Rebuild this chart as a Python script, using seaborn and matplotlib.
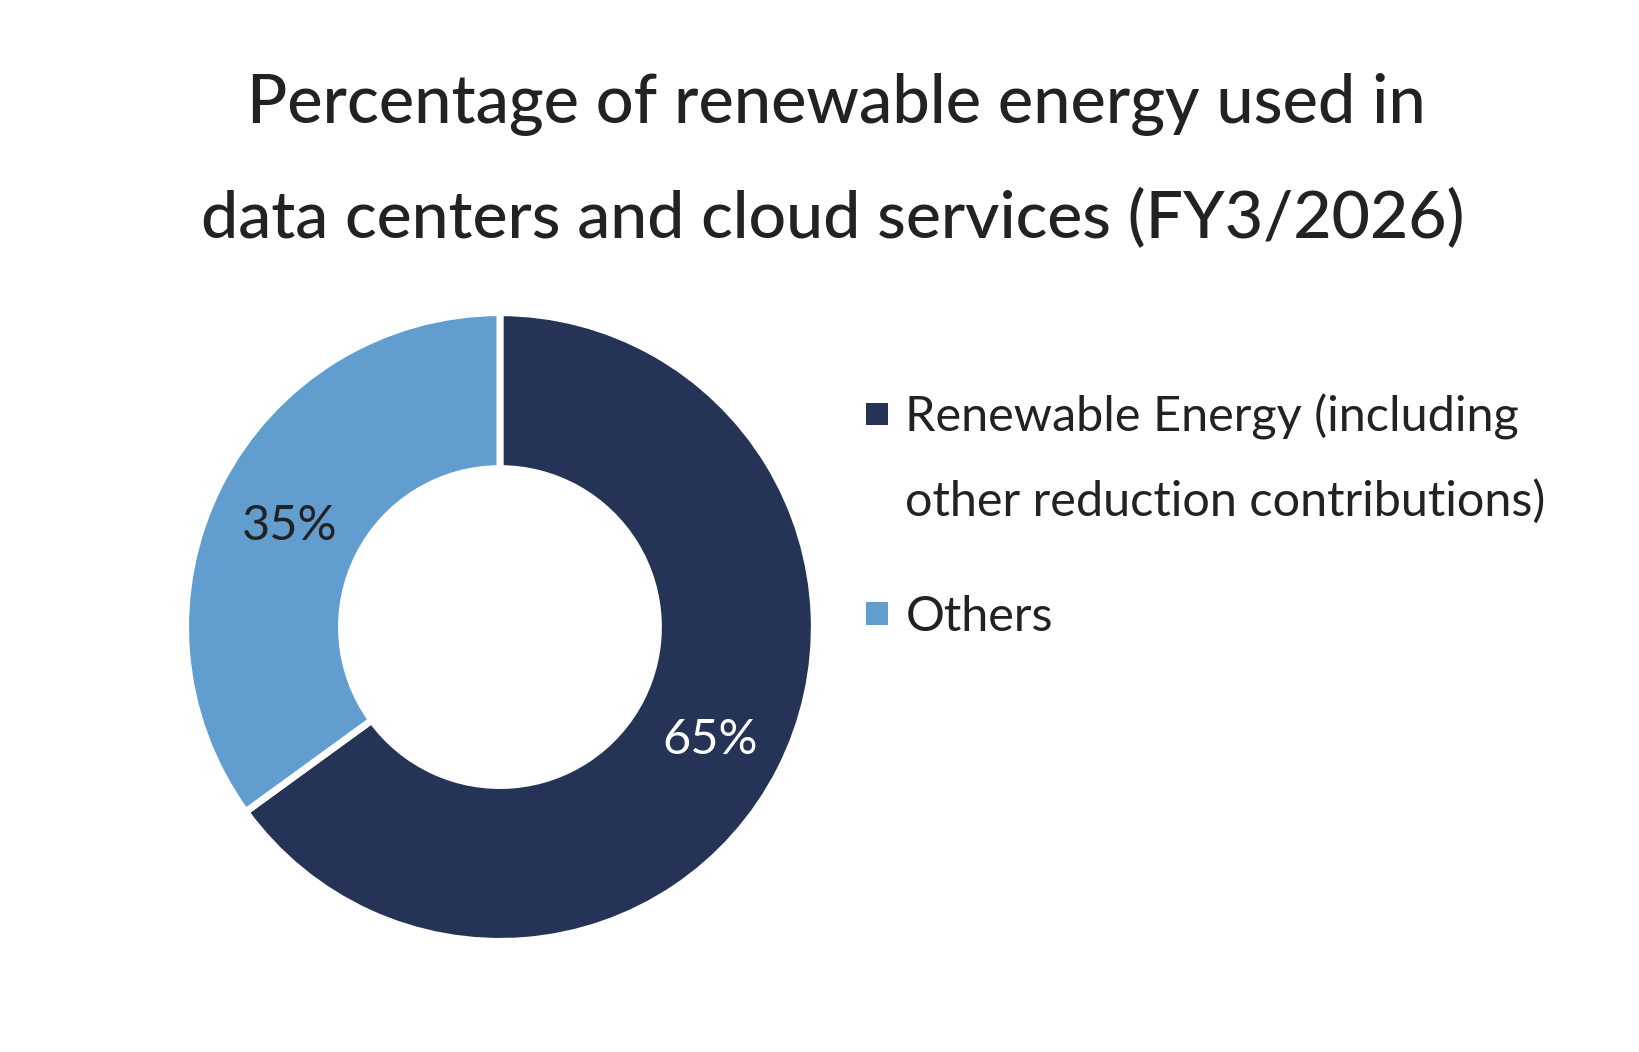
import matplotlib
matplotlib.use("Agg")
import matplotlib.pyplot as plt
import matplotlib.transforms as mtransforms
import seaborn as sns

# ---- data ----
categories = ["Renewable Energy (including", "Others"]
category_line2 = "other reduction contributions)"
values = [65, 35]
title_lines = ["Percentage of renewable energy used in",
               "data centers and cloud services (FY3/2026)"]

sns.set_theme(style="white")
plt.rcParams["font.family"] = ["Lato", "DejaVu Sans"]

palette = sns.color_palette(["#253357", "#629DD0"])
text_color = "#222222"

fig = plt.figure(figsize=(16.4, 10.52), dpi=100)
fig.patch.set_facecolor("white")

ax = fig.add_axes([0.0652, 0.0304, 0.4793, 0.7471])
wedges, texts, autotexts = ax.pie(
    values,
    colors=palette,
    startangle=90,
    counterclock=False,
    radius=1,
    autopct=lambda p: f"{p:.0f}%",
    pctdistance=0.75,
    wedgeprops=dict(width=0.496, edgecolor="white", linewidth=5),
    textprops=dict(fontsize=35),
)
ax.set_xlim(-1.25, 1.25)
ax.set_ylim(-1.25, 1.25)
ax.set_aspect("equal")
autotexts[0].set_color("white")
autotexts[1].set_color(text_color)
shift = mtransforms.ScaledTranslation(0, -6 / 100, fig.dpi_scale_trans)
for at in autotexts:
    at.set_transform(ax.transData + shift)

# title
fig.text(0.510, 1 - 104 / 1052, title_lines[0], ha="center", va="center",
         fontsize=48, color=text_color, fontweight="medium")
fig.text(0.508, 1 - 219 / 1052, title_lines[1], ha="center", va="center",
         fontsize=47.6, color=text_color, fontweight="medium")

# legend
leg = fig.legend(
    wedges, categories,
    loc="upper left",
    bbox_to_anchor=(866 / 1640, 1 - 394 / 1052),
    frameon=False,
    fontsize=35,
    handlelength=0.46,
    handleheight=0.335,
    handletextpad=0.35,
    labelspacing=3.18,
    borderpad=0,
    borderaxespad=0,
)
for h in leg.legend_handles:
    h.set_linewidth(0)
    h.set_edgecolor("none")
for t in leg.get_texts():
    t.set_color(text_color)

fig.canvas.draw()
t0 = leg.get_texts()[0]
x0, y0 = t0.get_transform().transform(t0.get_position())
fig.text(x0, y0 - 84, category_line2, fontsize=35, color=text_color,
         ha="left", va="baseline", transform=mtransforms.IdentityTransform())

fig.savefig("out.png", dpi=100, facecolor="white")
